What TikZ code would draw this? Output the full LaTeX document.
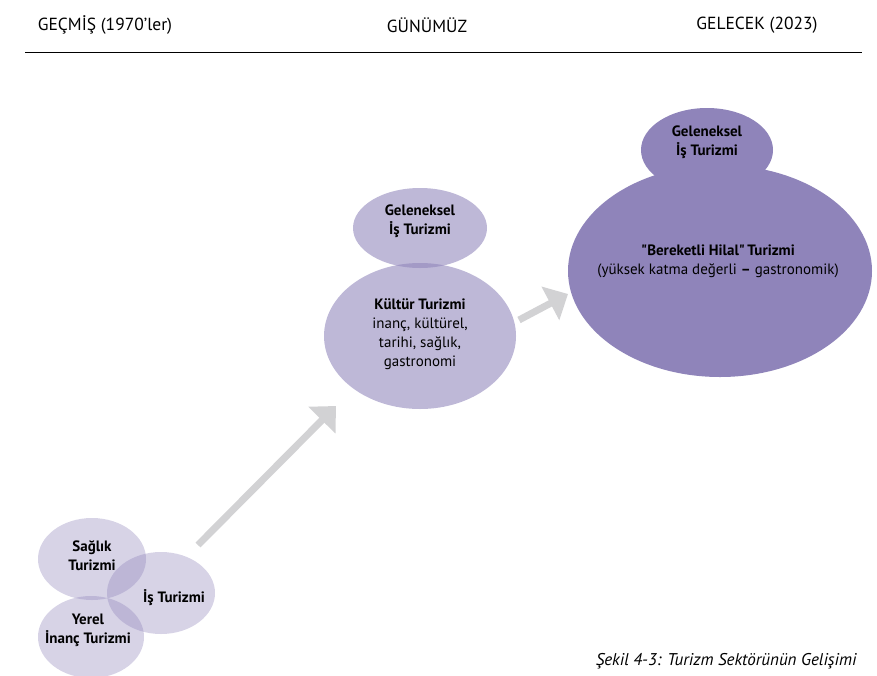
\documentclass[tikz,border=0pt]{standalone}
\usepackage{fontspec}
\setmainfont{PT Sans}
\newfontfamily\straightq{PT Sans}[Ligatures=TeXOff]
\usetikzlibrary{shapes.geometric,arrows.meta}
\definecolor{hilal}{RGB}{143,132,186}
\definecolor{okgri}{RGB}{210,210,212}
\tikzset{
  bubble/.style={ellipse, inner sep=0pt, fill=hilal},
  pale/.style={bubble, fill opacity=0.36},
  midtone/.style={bubble, fill opacity=0.58},
  lbl/.style={align=center, font=\fontsize{15}{19}\selectfont, text=black},
  head/.style={font=\fontsize{17.5}{21}\selectfont},
  progress/.style={draw=okgri, line width=7pt, -{Triangle[width=37pt,length=20pt]}}
}
\newcommand{\dq}{{\straightq\bfseries "}}
\begin{document}
\begin{tikzpicture}[x=1pt,y=-1pt]
\useasboundingbox (0,0) rectangle (877,675);

% header row and rule
\node[head] (past) at (105,25) {GEÇMİŞ (1970’ler)};
\node[head] (now) at (427,25) {GÜNÜMÜZ};
\node[head] (future) at (757,25) {GELECEK (2023)};
\coordinate (ruleL) at (25,52);
\coordinate (ruleR) at (862,52);
\draw[line width=1pt] (ruleL) -- (ruleR);

% past: three overlapping bubbles
\node[pale, minimum width=108pt, minimum height=82pt] (saglik) at (92,559) {};
\node[pale, minimum width=108pt, minimum height=82pt] (is) at (161,593) {};
\node[pale, minimum width=106pt, minimum height=82pt] (yerel) at (91,637) {};
\node[lbl] (saglikT) at (92,556) {\textbf{Sağlık}\\\textbf{Turizmi}};
\node[lbl] (isT) at (174,598) {\textbf{İş Turizmi}};
\node[lbl] (yerelT) at (88,630) {\textbf{Yerel}\\\textbf{İnanç Turizmi}};

% present
\node[midtone, minimum width=134pt, minimum height=80pt] (gelen1) at (420,228) {};
\node[midtone, minimum width=192pt, minimum height=146pt] (kultur) at (420,336) {};
\node[lbl] (gelen1T) at (420,221) {\textbf{Geleneksel}\\\textbf{İş Turizmi}};
\node[lbl] (kulturT) at (420,334) {\textbf{Kültür Turizmi}\\inanç, kültürel,\\tarihi, sağlık,\\gastronomi};

% future
\node[bubble, minimum width=132pt, minimum height=84pt] (gelen2) at (707,150) {};
\node[bubble, minimum width=304pt, minimum height=212pt] (hilalB) at (720,271) {};
\node[lbl] (gelen2T) at (707,142) {\textbf{Geleneksel}\\\textbf{İş Turizmi}};
\node[lbl] (hilalT) at (718,261) {\dq\textbf{Bereketli Hilal}\dq\,\textbf{Turizmi}\\(yüksek katma değerli \textbf{–} gastronomik)};

% development arrows
\coordinate (a1s) at (198,545);
\coordinate (a1e) at (336,406);
\coordinate (a2s) at (519,320);
\coordinate (a2e) at (568,294);
\draw[progress] (a1s) -- (a1e);
\draw[progress] (a2s) -- (a2e);

% caption
\node[font=\fontsize{17}{20}\selectfont\itshape, anchor=east] (cap) at (860,661) {Şekil 4-3: Turizm Sektörünün Gelişimi};
\end{tikzpicture}
\end{document}
